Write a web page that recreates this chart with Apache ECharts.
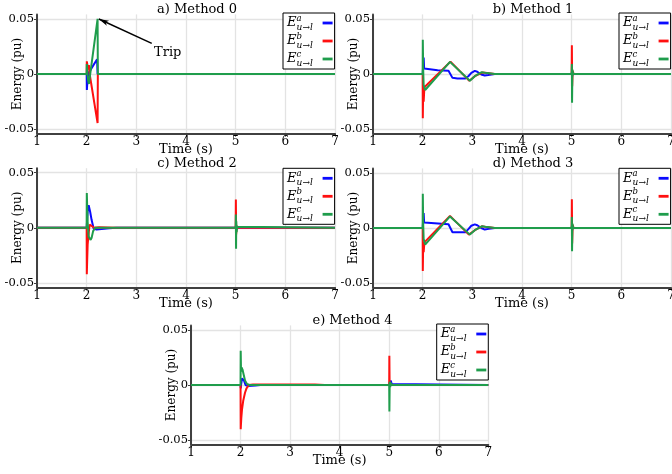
<!DOCTYPE html>
<html><head><meta charset="utf-8">
<script src="https://cdn.jsdelivr.net/npm/echarts@6/dist/echarts.min.js"></script>
<style>html,body{margin:0;padding:0;background:#fff}#c{width:672px;height:474px}</style>
</head><body><div id="c"></div>
<script>
// ---------- data ----------
const xTicks = [1, 2, 3, 4, 5, 6, 7];
const yTicks = [-0.05, 0, 0.05];
const yMin = -0.054, yMax = 0.054;
const seriesNames = ['a', 'b', 'c'];
const panelTitles = ['a) Method 0', 'b) Method 1', 'c) Method 2', 'd) Method 3', 'e) Method 4'];

// [time (s), energy (pu)]
const m0_a = [[1,0],[2,0],[2.004,-0.0145],[2.02,-0.003],[2.04,0.001],[2.21,0.0133],[2.22,0],[7,0]];
const m0_b = [[1,0],[2,0],[2.003,0.0115],[2.02,0.01],[2.03,0.004],[2.045,0.008],[2.06,0],[2.22,-0.0445],[2.225,0],[7,0]];
const m0_c = [[1,0],[2,0],[2.003,0.009],[2.015,0],[2.03,-0.006],[2.045,-0.009],[2.22,0.05],[2.225,0],[7,0]];

const m1_a = [[1,0],[2,0],[2.01,0],[2.02,0.015],[2.03,0.005],[2.05,0.0035],[2.3,0.0033],[2.52,0.003],[2.56,0.0015],[2.6,-0.0035],[2.7,-0.004],[2.86,-0.004],[2.92,-0.002],[2.98,0.001],[3.05,0.0028],[3.1,0.002],[3.18,-0.0005],[3.25,-0.0014],[3.32,-0.001],[3.45,0],[5,0],[5.005,0.002],[5.01,-0.002],[5.02,0],[7,0]];
const m1_b = [[1,0],[2,0],[2.003,-0.040],[2.01,-0.015],[2.02,-0.025],[2.035,-0.012],[2.05,-0.0115],[2.56,0.0112],[2.94,-0.0062],[3.05,-0.002],[3.2,0.0013],[3.3,0.0008],[3.45,0],[5,0],[5.004,0.026],[5.01,-0.011],[5.02,0.003],[5.04,0],[7,0]];
const m1_c = [[1,0],[2,0],[2.003,0.031],[2.01,0.005],[2.02,-0.01],[2.05,-0.0145],[2.55,0.011],[2.95,-0.0062],[3.05,-0.002],[3.19,0.0016],[3.3,0.0008],[3.45,0],[5,0],[5.004,0.009],[5.008,-0.026],[5.015,0.004],[5.03,0],[7,0]];

const m2_a = [[1,0],[2,0],[2.005,0],[2.02,0.015],[2.04,0.0205],[2.07,0.0145],[2.1,0.007],[2.14,-0.0006],[2.2,-0.0015],[2.3,-0.0012],[2.45,-0.0005],[2.6,0],[5,0],[5.005,0.002],[5.01,-0.002],[5.02,0],[7,0]];
const m2_b = [[1,0],[2,0],[2.003,-0.042],[2.01,-0.03],[2.02,-0.015],[2.04,-0.005],[2.06,0.003],[2.08,0.0045],[2.1,0.003],[2.15,0],[2.25,0.0004],[2.6,0],[5,0],[5.004,0.0257],[5.01,-0.006],[5.02,0.002],[5.04,0],[7,0]];
const m2_c = [[1,0],[2,0],[2.003,0.0315],[2.01,0.02],[2.02,0.005],[2.04,-0.008],[2.08,-0.011],[2.1,-0.009],[2.13,-0.003],[2.17,0],[5,0],[5.004,0.012],[5.008,-0.019],[5.012,0.006],[5.02,-0.004],[5.03,0.001],[5.05,0],[7,0]];

const m3_a = [[1,0],[2,0],[2.01,0],[2.02,0.0135],[2.03,0.005],[2.05,0.0036],[2.52,0.0034],[2.56,0.002],[2.6,-0.0038],[2.86,-0.0038],[2.92,-0.001],[2.98,0.002],[3.05,0.0033],[3.1,0.0025],[3.18,0],[3.25,-0.0014],[3.33,-0.0008],[3.45,0],[5,0],[5.005,0.002],[5.01,-0.002],[5.02,0],[7,0]];
const m3_b = [[1,0],[2,0],[2.003,-0.039],[2.01,-0.015],[2.02,-0.022],[2.035,-0.013],[2.05,-0.0125],[2.55,0.011],[2.93,-0.006],[3.05,-0.002],[3.19,0.0015],[3.3,0.0008],[3.45,0],[5,0],[5.004,0.026],[5.01,-0.014],[5.02,0.003],[5.04,0],[7,0]];
const m3_c = [[1,0],[2,0],[2.003,0.031],[2.01,0.005],[2.02,-0.01],[2.05,-0.015],[2.55,0.0105],[2.95,-0.006],[3.05,-0.002],[3.2,0.0016],[3.3,0.0008],[3.45,0],[5,0],[5.004,0.01],[5.008,-0.021],[5.015,0.004],[5.03,0],[7,0]];

const m4_a = [[1,0],[2,0],[2.004,-0.003],[2.01,0],[2.03,0.006],[2.05,0.0075],[2.07,0.004],[2.1,0],[2.15,-0.001],[2.3,-0.0005],[2.4,0],[5,0],[5.01,0.002],[5.03,0.004],[5.05,0.001],[5.08,0],[7,0]];
const m4_b = [[1,0],[2,0],[2.003,-0.040],[2.015,-0.03],[2.03,-0.022],[2.055,-0.014],[2.09,-0.007],[2.12,-0.003],[2.17,0],[2.25,0.0005],[3.5,0.0005],[3.7,0],[5,0],[5.003,0.0265],[5.008,0.002],[5.02,0.003],[5.04,0],[7,0]];
const m4_c = [[1,0],[2,0],[2.003,0.031],[2.01,0.012],[2.02,0.016],[2.04,0.014],[2.06,0.01],[2.09,0.004],[2.13,0.001],[2.18,0],[5,0],[5.004,-0.024],[5.01,0.003],[5.02,-0.002],[5.035,0.002],[5.05,0],[7,0]];

const tripTail = [3.31, 0.0278];
const tripTip = [2.245, 0.0498];
const tripLabel = 'Trip';

// ---------- layout / style ----------
const FONT = 'DejaVu Serif';
const colors = ['#0a0aff', '#ff1010', '#1f9d4c'];
const panelData = [[m0_a,m0_b,m0_c],[m1_a,m1_b,m1_c],[m2_a,m2_b,m2_c],[m3_a,m3_b,m3_c],[m4_a,m4_b,m4_c]];
const grids = [
  {left: 37,  top: 14.4,  width: 298,   height: 119.2},
  {left: 373, top: 14.4,  width: 298,   height: 119.2},
  {left: 37,  top: 168.2, width: 298,   height: 119.2},
  {left: 373, top: 168.4, width: 298,   height: 119.2},
  {left: 191, top: 325.4, width: 297.3, height: 119.2}
];
const titlePos = [[197, 3.5], [533, 3.5], [197, 157.5], [533, 157.5], [352.5, 314]];
const legendPos = [[283, 13], [619, 13], [283, 168.3], [619, 168.3], [436.7, 324]];

const option = {
  animation: false,
  backgroundColor: '#fff',
  title: [], grid: [], xAxis: [], yAxis: [], legend: [], series: [],
  graphic: []
};

const legendRich = {
  e: {fontFamily: FONT, fontStyle: 'italic', fontSize: 13, lineHeight: 18, color: '#000', align: 'left'},
  s: {fontFamily: FONT, fontStyle: 'italic', fontSize: 8.5, lineHeight: 9, width: 0.1, verticalAlign: 'top', color: '#000', align: 'left'},
  u: {fontFamily: FONT, fontStyle: 'italic', fontSize: 9, lineHeight: 10, width: 21, verticalAlign: 'bottom', color: '#000', align: 'left'}
};

panelData.forEach((pd, i) => {
  option.title.push({
    text: panelTitles[i], left: titlePos[i][0], top: titlePos[i][1], textAlign: 'center', padding: 0,
    textStyle: {fontFamily: FONT, fontSize: 13, fontWeight: 'normal', color: '#000'}
  });
  option.grid.push(Object.assign({containLabel: false, outerBoundsMode: 'none'}, grids[i]));
  option.xAxis.push({
    type: 'value', gridIndex: i, min: 1, max: 7, interval: 1,
    name: 'Time (s)', nameLocation: 'middle', nameGap: 9.5, nameMoveOverlap: false,
    nameTextStyle: {fontFamily: FONT, fontSize: 13, color: '#000'},
    axisLine: {show: true, onZero: false, lineStyle: {color: '#404040', width: 2}},
    axisTick: {show: true, length: 3, lineStyle: {color: '#404040', width: 1}},
    axisLabel: {fontFamily: FONT, fontSize: 12, color: '#000', margin: 2},
    splitLine: {show: true, lineStyle: {color: '#e3e3e3', width: 1.3}}
  });
  option.yAxis.push({
    type: 'value', gridIndex: i, min: yMin, max: yMax,
    name: 'Energy (pu)', nameLocation: 'middle', nameGap: 13, nameMoveOverlap: false,
    nameTextStyle: {fontFamily: FONT, fontSize: 12, color: '#000'},
    axisLine: {show: true, lineStyle: {color: '#404040', width: 2}},
    axisTick: {show: true, length: 3, customValues: yTicks, lineStyle: {color: '#404040', width: 1}},
    axisLabel: {fontFamily: FONT, fontSize: 11.5, color: '#000', margin: 3, customValues: yTicks,
      formatter: v => (Math.abs(v) < 1e-9 ? '0' : v.toFixed(2))},
    splitLine: {show: true, lineStyle: {color: '#e3e3e3', width: 1.3}}
  });
  option.legend.push({
    data: seriesNames, orient: 'vertical', align: 'right',
    left: legendPos[i][0], top: legendPos[i][1],
    icon: 'rect', itemWidth: 10, itemHeight: 2.8, itemGap: 0,
    padding: [1, 2, 1, 4], borderColor: '#000', borderWidth: 1, backgroundColor: '#fff',
    selectedMode: false,
    formatter: n => '{e|E}{s|' + n + '}{u|u\u2192l}',
    textStyle: {rich: legendRich}
  });
  pd.forEach((arr, k) => {
    const s = {
      name: seriesNames[k], type: 'line', xAxisIndex: i, yAxisIndex: i,
      data: arr, symbol: 'none', showSymbol: false,
      lineStyle: {width: 2, color: colors[k]}, itemStyle: {color: colors[k]},
      z: 2 + k
    };
    if (i === 0 && k === 2) {
      s.markLine = {
        silent: true, symbol: ['none', 'arrow'], symbolSize: [4, 10],
        lineStyle: {color: '#000', width: 1.5, type: 'solid'},
        label: {show: false},
        data: [[{coord: tripTail}, {coord: tripTip}]]
      };
    }
    option.series.push(s);
  });
});

option.graphic.push({
  type: 'text', left: 154, top: 46,
  style: {text: tripLabel, font: '13px "DejaVu Serif"', fill: '#000'}
});

const chart = echarts.init(document.getElementById('c'), null, {renderer: 'canvas'});
chart.setOption(option);
</script></body></html>
